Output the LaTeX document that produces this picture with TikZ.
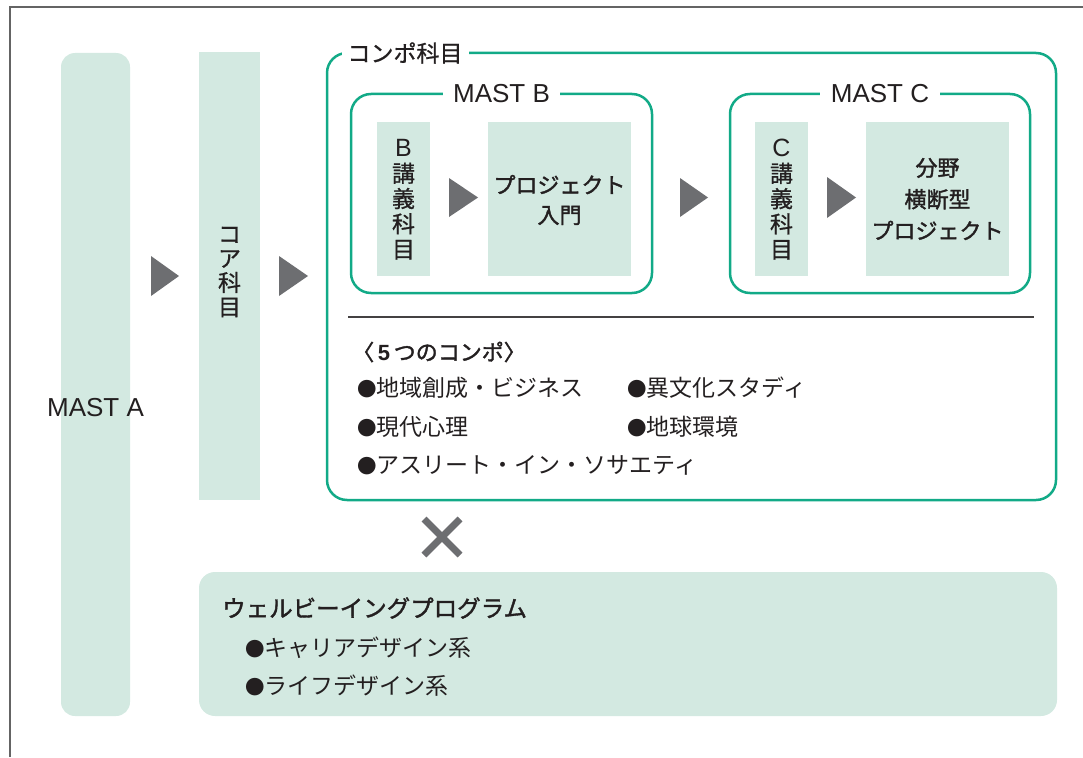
\documentclass[tikz,border=0pt]{standalone}
\usepackage{fontspec}
\setmainfont{Liberation Sans}
\newfontfamily\jp{Noto Sans CJK JP}
\newfontfamily\jpmed[FakeBold=1.6]{Noto Sans CJK JP}
\newfontfamily\jpsemi[FakeBold=0.8]{Noto Sans CJK JP}
\newcommand\mybul{{\fontsize{19.5}{25}\selectfont●}}
\definecolor{mint}{RGB}{211,233,225}
\definecolor{grn}{RGB}{18,170,135}
\definecolor{trig}{RGB}{109,110,113}
\definecolor{txt}{RGB}{35,31,32}
\definecolor{frm}{RGB}{100,100,100}
\tikzset{
  mintbox/.style={fill=mint, draw=none, inner sep=0pt},
  grnframe/.style={draw=grn, line width=2.5pt, rounded corners=20pt, inner sep=0pt},
  framelabel/.style={fill=white, inner ysep=2pt, text=txt},
  latinlbl/.style={font=\fontsize{26}{30}\selectfont, text=txt},
  jplbl/.style={font=\jp\fontsize{23}{25}\selectfont, text=txt},
  vtext/.style={font=\jpsemi\fontsize{23}{25.3}\selectfont, text=txt, align=center, inner sep=0pt},
  arrowtri/.style={fill=trig},
}
\begin{document}
\begin{tikzpicture}[x=1pt,y=-1pt]
\useasboundingbox (0,0) rectangle (1083,757);
% outer frame
\draw[frm, line width=1.5pt] (10,757) -- (10,7) -- (1083,7);

% MAST A
\node[mintbox, rounded corners=14pt, minimum width=69pt, minimum height=663pt] (mastA) at (95.5,384.5) {};
\node[latinlbl, inner sep=0pt] (mastAlbl) at (95.5,408) {MAST A};

% core
\node[mintbox, minimum width=61pt, minimum height=448pt] (core) at (229.5,276) {};
\node[vtext, font=\jpsemi\fontsize{23}{24.3}\selectfont] (coretxt) at (229.5,272) {コ\\ア\\科\\目};

% compo frame
\node[grnframe, minimum width=729pt, minimum height=447pt] (compo) at (691.5,276.5) {};
\node[framelabel, font=\jpsemi\fontsize{23}{25}\selectfont, inner xsep=6pt] (compolbl) at (405,53) {コンポ科目};

% MAST B
\node[grnframe, minimum width=301pt, minimum height=199pt] (mastB) at (501.5,193.5) {};
\node[framelabel, latinlbl, inner xsep=10.5pt] (mastBlbl) at (501.5,94) {MAST B};
\node[mintbox, minimum width=53pt, minimum height=154pt] (bLect) at (403.5,199) {};
\node[vtext] (bLecttxt) at (403.5,199.5) {{\rmfamily\fontsize{25}{25.3}\selectfont B}\\講\\義\\科\\目};
\node[mintbox, minimum width=143pt, minimum height=154pt] (bProj) at (559.5,199) {};
\node[vtext, font=\jpmed\fontsize{22}{30}\selectfont] (bProjtxt) at (559.5,200) {プロジェクト\\入門};

% MAST C
\node[grnframe, minimum width=300pt, minimum height=199pt] (mastC) at (880,193.5) {};
\node[framelabel, latinlbl, inner xsep=10.5pt] (mastClbl) at (880,94) {MAST C};
\node[mintbox, minimum width=53pt, minimum height=154pt] (cLect) at (781.5,199) {};
\node[vtext] (cLecttxt) at (781.5,199.5) {{\rmfamily\fontsize{25}{25.3}\selectfont C}\\講\\義\\科\\目};
\node[mintbox, minimum width=143pt, minimum height=154pt] (cProj) at (937.5,199) {};
\node[vtext, font=\jpmed\fontsize{22}{31.5}\selectfont] (cProjtxt) at (937.5,199) {分野\\横断型\\プロジェクト};

% triangles
\fill[arrowtri] (151,256) -- (151,296) -- (179,276) -- cycle;
\fill[arrowtri] (279,256) -- (279,296) -- (308,276) -- cycle;
\fill[arrowtri] (449,178) -- (449,217) -- (478,197.5) -- cycle;
\fill[arrowtri] (680,178) -- (680,217) -- (708,197.5) -- cycle;
\fill[arrowtri] (827,177) -- (827,218) -- (856,197.5) -- cycle;

% separator
\coordinate (sepL) at (348,317);
\coordinate (sepR) at (1034,317);
\draw[txt!85, line width=1.2pt] (sepL) -- (sepR);

% compo list
\node[jplbl, font=\jpmed\fontsize{22}{25}\selectfont, anchor=west, inner sep=0pt] (compoHead) at (352,352) {〈{\rmfamily\bfseries\fontsize{22}{25}\selectfont\,5\,}つのコンポ〉};
\node[jplbl, anchor=west, inner sep=0pt] (c1) at (357,388) {\mybul 地域創成・ビジネス};
\node[jplbl, anchor=west, inner sep=0pt] (c2) at (627,388) {\mybul 異文化スタディ};
\node[jplbl, anchor=west, inner sep=0pt] (c3) at (357,427) {\mybul 現代心理};
\node[jplbl, anchor=west, inner sep=0pt] (c4) at (627,427) {\mybul 地球環境};
\node[jplbl, anchor=west, inner sep=0pt] (c5) at (357,465) {\mybul アスリート・イン・ソサエティ};

% times mark
\draw[trig, line width=7pt] (424,519) -- (460,555);
\draw[trig, line width=7pt] (460,519) -- (424,555);

% wellbeing
\node[mintbox, rounded corners=16pt, minimum width=858pt, minimum height=144pt] (well) at (628,644) {};
\node[jplbl, font=\jpmed\fontsize{23.5}{25}\selectfont, anchor=west, inner sep=0pt] (wellHead) at (222,608) {ウェルビーイングプログラム};
\node[jplbl, anchor=west, inner sep=0pt] (w1) at (245,648) {\mybul キャリアデザイン系};
\node[jplbl, anchor=west, inner sep=0pt] (w2) at (245,686) {\mybul ライフデザイン系};
\end{tikzpicture}
\end{document}
